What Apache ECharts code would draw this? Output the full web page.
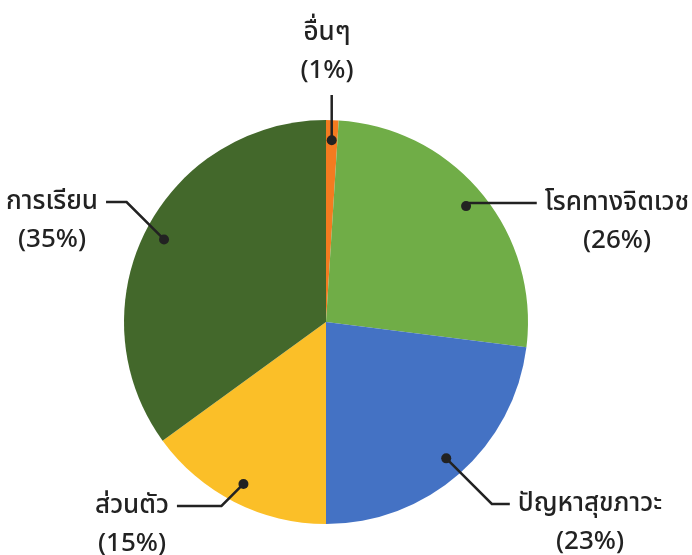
<!DOCTYPE html>
<html>
<head>
    <meta charset="utf-8">
    <title>pie</title>
    <script src="https://cdn.jsdelivr.net/npm/echarts@6/dist/echarts.min.js"></script>
    <style>
        html, body { margin: 0; padding: 0; background: #fff; }
        #main { width: 692px; height: 555px; }
    </style>
</head>
<body>
    <div id="main"></div>
    <script>
        // ข้อมูล
        var names = ['อื่นๆ', 'โรคทางจิตเวช', 'ปัญหาสุขภาวะ', 'ส่วนตัว', 'การเรียน'];
        var values = [1, 26, 23, 15, 35];
        var colors = ['#f47b20', '#70ad47', '#4472c4', '#fbbf28', '#43682b'];

        var center = [326, 322];
        var R = 202;
        var dotR = 0.9; // dot sits at 90% of the radius
        var ink = '#222222';
        var font = "'Noto Sans', 'Noto Sans Thai', Tahoma, sans-serif";
        var fontSize = 26;
        var fontWeight = 500;
        var lineH = 38;

        // label first-row centres
        var labelPos = [[327, 33], [617, 203], [590, 504], [132, 506], [52, 202]];

        var total = values.reduce(function (a, b) { return a + b; }, 0);
        var mids = [];
        var acc = 0;
        values.forEach(function (v) {
            mids.push([dotR, (acc + v / 2) / total * 100]);
            acc += v;
        });

        function labelText(i) {
            return names[i] + '\n(' + values[i] + '%)';
        }

        // วัดความกว้างข้อความ
        var ctx = document.createElement('canvas').getContext('2d');
        ctx.font = fontWeight + ' ' + fontSize + 'px ' + font;
        function textWidth(i) {
            return Math.max.apply(null, labelText(i).split('\n').map(function (s) {
                return ctx.measureText(s).width;
            }));
        }

        var pieData = names.map(function (n, i) {
            return { name: n, value: values[i], itemStyle: { color: colors[i] } };
        });

        var myChart = echarts.init(document.getElementById('main'));
        myChart.setOption({
            animation: false,
            polar: { center: center, radius: R },
            angleAxis: { type: 'value', min: 0, max: 100, startAngle: 90, clockwise: true, show: false },
            radiusAxis: { type: 'value', min: 0, max: 1, show: false },
            series: [{
                type: 'pie',
                center: center,
                radius: R,
                startAngle: 90,
                clockwise: true,
                silent: true,
                label: { show: false },
                labelLine: { show: false },
                data: pieData
            }, {
                // โปร่งใส ใช้วางป้ายข้อความ
                type: 'pie',
                center: center,
                radius: R * dotR,
                startAngle: 90,
                clockwise: true,
                silent: true,
                avoidLabelOverlap: false,
                itemStyle: { color: 'transparent' },
                label: {
                    show: true,
                    color: ink,
                    fontFamily: font,
                    fontSize: fontSize,
                    fontWeight: fontWeight,
                    lineHeight: lineH,
                    align: 'center',
                    formatter: function (p) { return labelText(p.dataIndex); }
                },
                labelLine: { show: false },
                labelLayout: function (p) {
                    var pos = labelPos[p.dataIndex];
                    return {
                        x: pos[0],
                        y: pos[1] - lineH / 2,
                        align: 'center',
                        verticalAlign: 'top'
                    };
                },
                data: names.map(function (n, i) { return { name: n, value: values[i] }; })
            }, {
                // เส้นชี้และจุด
                type: 'custom',
                coordinateSystem: 'polar',
                silent: true,
                z: 5,
                renderItem: function (params, api) {
                    var i = params.dataIndex;
                    var dot = api.coord([api.value(0), api.value(1)]);
                    var pos = labelPos[i];
                    var pts;
                    if (i === 0) {
                        pts = [dot, [dot[0], 95]];
                    } else {
                        var right = pos[0] > center[0];
                        var w = textWidth(i);
                        var endX = right ? pos[0] - w / 2 - 8 : pos[0] + w / 2 + 8;
                        var dy = pos[1] - dot[1];
                        var bx = dot[0] + (right ? 1 : -1) * Math.abs(dy);
                        if (right ? bx > endX : bx < endX) bx = endX;
                        pts = [dot, [bx, pos[1]], [endX, pos[1]]];
                    }
                    return {
                        type: 'group',
                        children: [{
                            type: 'polyline',
                            shape: { points: pts },
                            style: { stroke: ink, lineWidth: 2.5, fill: null }
                        }, {
                            type: 'circle',
                            shape: { cx: dot[0], cy: dot[1], r: 5 },
                            style: { fill: ink }
                        }]
                    };
                },
                data: mids
            }]
        });
    </script>
</body>
</html>
